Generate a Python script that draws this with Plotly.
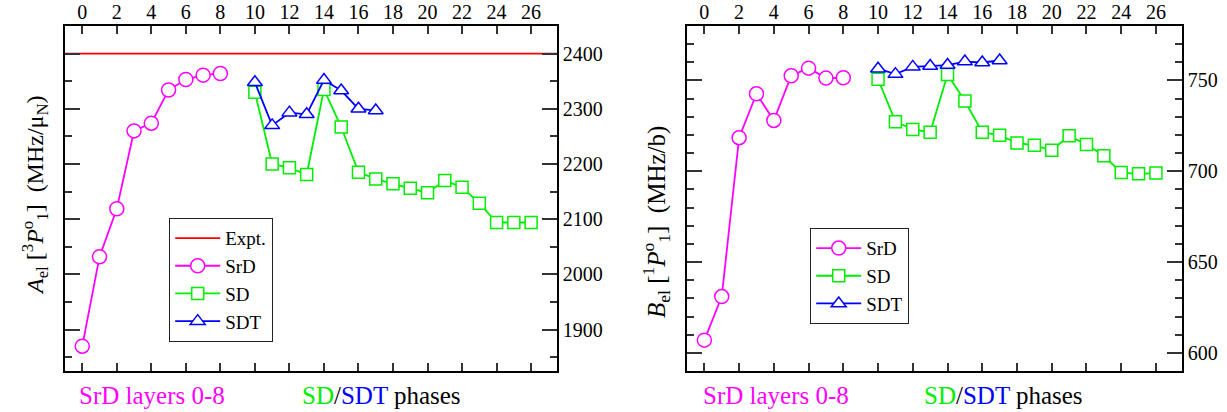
import plotly.graph_objects as go

# ---- data ----
srd_x = [0, 1, 2, 3, 4, 5, 6, 7, 8]
sdt_x = [10, 11, 12, 13, 14, 15, 16, 17]
sd_x = list(range(10, 27))

expt_A = 2400
srd_A = [1870, 2032, 2119, 2260, 2274, 2334, 2353, 2361, 2364]
sd_A = [2330, 2200, 2193, 2181, 2335, 2267, 2185, 2173, 2164, 2156, 2148, 2170, 2158, 2129, 2094, 2094, 2094]
sdt_A = [2348, 2270, 2293, 2290, 2352, 2333, 2300, 2297]

srd_B = [607, 631, 718.5, 742.7, 728, 752.6, 756.8, 751.3, 751.5]
sd_B = [750.7, 727.3, 723, 721.5, 753.3, 738.7, 721.5, 719.8, 715.6, 714.3, 711.6, 719.5, 714.7, 708.5, 699.3, 698.6, 699]
sdt_B = [756.5, 753.5, 757.5, 758, 758.5, 760.4, 759.9, 761]

x_ticks = list(range(0, 27, 2))

W, H = 1227, 412
FONT = '"Liberation Serif", "Times New Roman", Times, serif'
MAG, GRN, BLU, RED = "#ff00ff", "#00ee00", "#0000ff", "#ff0000"

def px(x):
    return x / W

def py(y):
    return 1 - y / H

fig = go.Figure()

def add_series(xs, ys, name, color, symbol, size, xa, ya, legend, showleg=True):
    fig.add_trace(go.Scatter(
        x=xs, y=ys, name=name, mode="lines+markers",
        line=dict(color=color, width=1.8),
        marker=dict(symbol=symbol, size=size, color="white",
                    line=dict(color=color, width=1.5)),
        xaxis=xa, yaxis=ya, legend=legend, showlegend=showleg))

# left panel
fig.add_trace(go.Scatter(x=[-1, 27.5], y=[expt_A, expt_A], name="Expt.", mode="lines",
                         line=dict(color=RED, width=1.8), xaxis="x", yaxis="y", legend="legend"))
add_series(srd_x, srd_A, "SrD", MAG, "circle", 14, "x", "y", "legend")
add_series(sd_x, sd_A, "SD", GRN, "square", 12, "x", "y", "legend")
add_series(sdt_x, sdt_A, "SDT", BLU, "triangle-up", 13, "x", "y", "legend")

# right panel
add_series(srd_x, srd_B, "SrD", MAG, "circle", 14, "x2", "y2", "legend2")
add_series(sd_x, sd_B, "SD", GRN, "square", 12, "x2", "y2", "legend2")
add_series(sdt_x, sdt_B, "SDT", BLU, "triangle-up", 13, "x2", "y2", "legend2")

xcommon = dict(range=[-1, 27.5], side="top", tickmode="array", tickvals=x_ticks,
               ticks="inside", ticklen=8, tickwidth=1.5, tickcolor="#333",
               showline=True, linecolor="black", linewidth=1.5, mirror="allticks",
               showgrid=False, zeroline=False, ticklabelstandoff=-3,
               tickfont=dict(family=FONT, size=20, color="black"), automargin=False)
ycommon = dict(side="right", ticks="inside", ticklen=15, tickwidth=1.5, tickcolor="#333",
               showline=True, linecolor="black", linewidth=1.5, mirror="allticks",
               showgrid=False, zeroline=False,
               tickfont=dict(family=FONT, size=20, color="black"), automargin=False)

fig.update_layout(
    width=W, height=H, margin=dict(l=0, r=0, t=0, b=0),
    paper_bgcolor="white", plot_bgcolor="white",
    font=dict(family=FONT, color="black"),
    xaxis=dict(domain=[px(65), px(557)], anchor="y", **xcommon),
    yaxis=dict(domain=[py(371), py(26)], anchor="x", range=[1825, 2450], dtick=100, tick0=1900,
               minor=dict(dtick=50, ticks="inside", ticklen=7, tickcolor="#333", tickwidth=1.5),
               **ycommon),
    xaxis2=dict(domain=[px(687), px(1182)], anchor="y2", **xcommon),
    yaxis2=dict(domain=[py(371), py(26)], anchor="x2", range=[590, 780], dtick=50, tick0=600,
                minor=dict(dtick=10, ticks="inside", ticklen=7, tickcolor="#333", tickwidth=1.5),
                **ycommon),
    legend=dict(x=px(169), y=py(218), xanchor="left", yanchor="top",
                bordercolor="#222", borderwidth=1.2, bgcolor="white",
                font=dict(family=FONT, size=19, color="black"), tracegroupgap=0, itemwidth=45),
    legend2=dict(x=px(810), y=py(228), xanchor="left", yanchor="top",
                 bordercolor="#222", borderwidth=1.2, bgcolor="white",
                 font=dict(family=FONT, size=19, color="black"), tracegroupgap=0, itemwidth=45),
)

ann = [
    dict(x=px(35), y=py(195),
         text="<i>A</i><sub>el</sub> [<sup>3</sup><i>P</i><sup>o</sup><sub>1</sub>]  (MHz/μ<sub>N</sub>)",
         textangle=-90, font=dict(size=24)),
    dict(x=px(656), y=py(222),
         text="<i>B</i><sub>el</sub> [<sup>1</sup><i>P</i><sup>o</sup><sub>1</sub>]  (MHz/b)",
         textangle=-90, font=dict(size=25)),
    dict(x=px(152), y=py(395), text="SrD layers 0-8", font=dict(size=25, color=MAG)),
    dict(x=px(381), y=py(395),
         text=f'<span style="color:{GRN}">SD</span>/<span style="color:{BLU}">SDT</span> phases',
         font=dict(size=25, color="black")),
    dict(x=px(776), y=py(395), text="SrD layers 0-8", font=dict(size=25, color=MAG)),
    dict(x=px(1003), y=py(395),
         text=f'<span style="color:{GRN}">SD</span>/<span style="color:{BLU}">SDT</span> phases',
         font=dict(size=25, color="black")),
]
for a in ann:
    a.update(xref="paper", yref="paper", showarrow=False, xanchor="center", yanchor="middle")
    a["font"] = dict(family=FONT, **a["font"])
    fig.add_annotation(**a)

fig.write_html("out.html")
